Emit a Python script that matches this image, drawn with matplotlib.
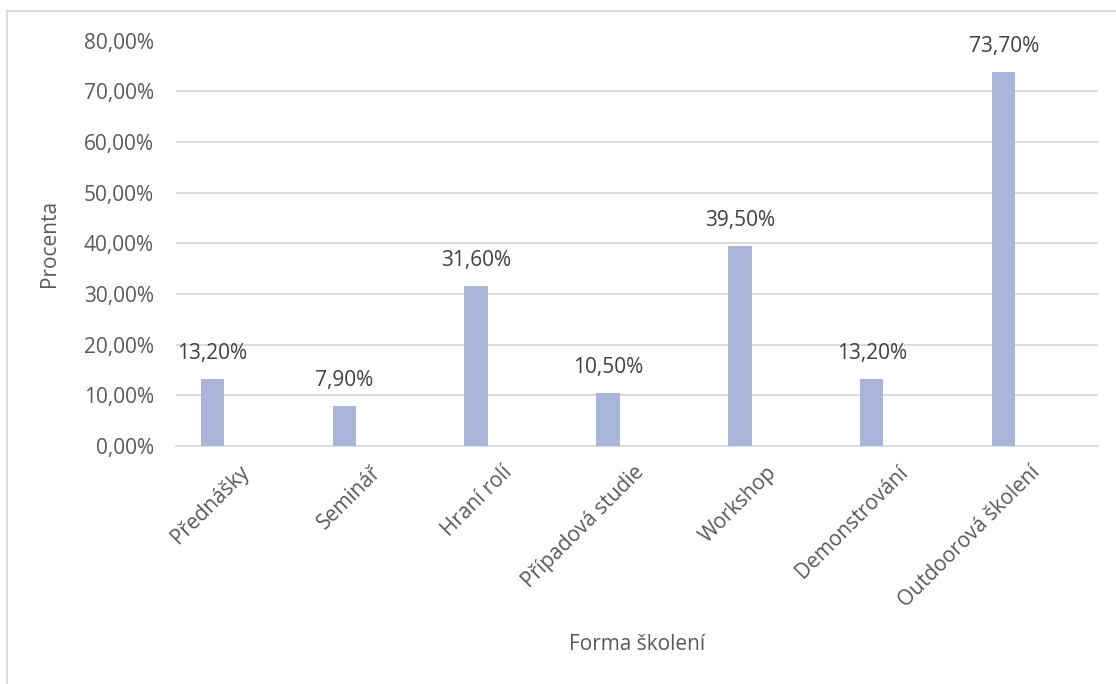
import numpy as np
import matplotlib.pyplot as plt
from matplotlib.lines import Line2D

plt.rcParams['font.family'] = ['Open Sans', 'DejaVu Sans']

categories = ["Přednášky", "Seminář", "Hraní rolí", "Případová studie",
              "Workshop", "Demonstrování", "Outdoorová školení"]
values = [13.2, 7.9, 31.6, 10.5, 39.5, 13.2, 73.7]
yticks = [0, 10, 20, 30, 40, 50, 60, 70, 80]

bar_color = "#A9B6DA"
grid_color = "#D9D9D9"
tick_color = "#595959"
label_color = "#404040"


def pct(v):
	return ("%.2f%%" % v).replace(".", ",")


W, H = 1116, 684
fig = plt.figure(figsize=(W / 100, H / 100), dpi=100)

# axes box in pixel units
left, right, top, bottom = 176, 1098, 40.5, 446
ax = fig.add_axes([left / W, 1 - bottom / H, (right - left) / W, (bottom - top) / H])

x = np.arange(len(categories))
ax.bar(x, values, width=0.177, color=bar_color, zorder=3)

for xi, v in zip(x, values):
	ax.annotate(pct(v), (xi, v), xytext=(0, 18.5), textcoords="offset points",
		ha="center", va="center", fontsize=15, color=label_color)

# slanted category labels, ending a little right of each bar
ax.set_xticks(x)
ax.set_xticklabels([])
for xi, cat in zip(x, categories):
	ax.annotate(cat, (xi, 0), xytext=(18.7, -11.5), textcoords="offset points",
		rotation=45, ha="right", va="top", rotation_mode="anchor",
		fontsize=15, color=tick_color, annotation_clip=False)

ax.set_xlim(-0.275, 6.715)
ax.set_ylim(0, 80)
ax.set_yticks(yticks)
ax.set_yticklabels([pct(t) for t in yticks])

ax.grid(axis="y", color=grid_color, lw=1.3, zorder=0)
for s in ["top", "right", "left"]:
	ax.spines[s].set_visible(False)
ax.spines["bottom"].set_color(grid_color)
ax.spines["bottom"].set_linewidth(1.3)
ax.tick_params(axis="both", length=0, labelsize=15, labelcolor=tick_color)
ax.tick_params(axis="y", pad=16)

ax.set_ylabel("Procenta", fontsize=15, color=tick_color)
ax.yaxis.set_label_coords((60 - left) / (right - left), 0.5)
fig.text(637 / W, 1 - 645 / H, "Forma školení", ha="center", va="center",
	fontsize=15, color=tick_color)

# chart frame
fig.add_artist(Line2D([7 / W, 1], [1 - 11 / H, 1 - 11 / H], color=grid_color, lw=1.3))
fig.add_artist(Line2D([7 / W, 7 / W], [0, 1 - 11 / H], color=grid_color, lw=1.3))

fig.savefig("out.png", dpi=100)
